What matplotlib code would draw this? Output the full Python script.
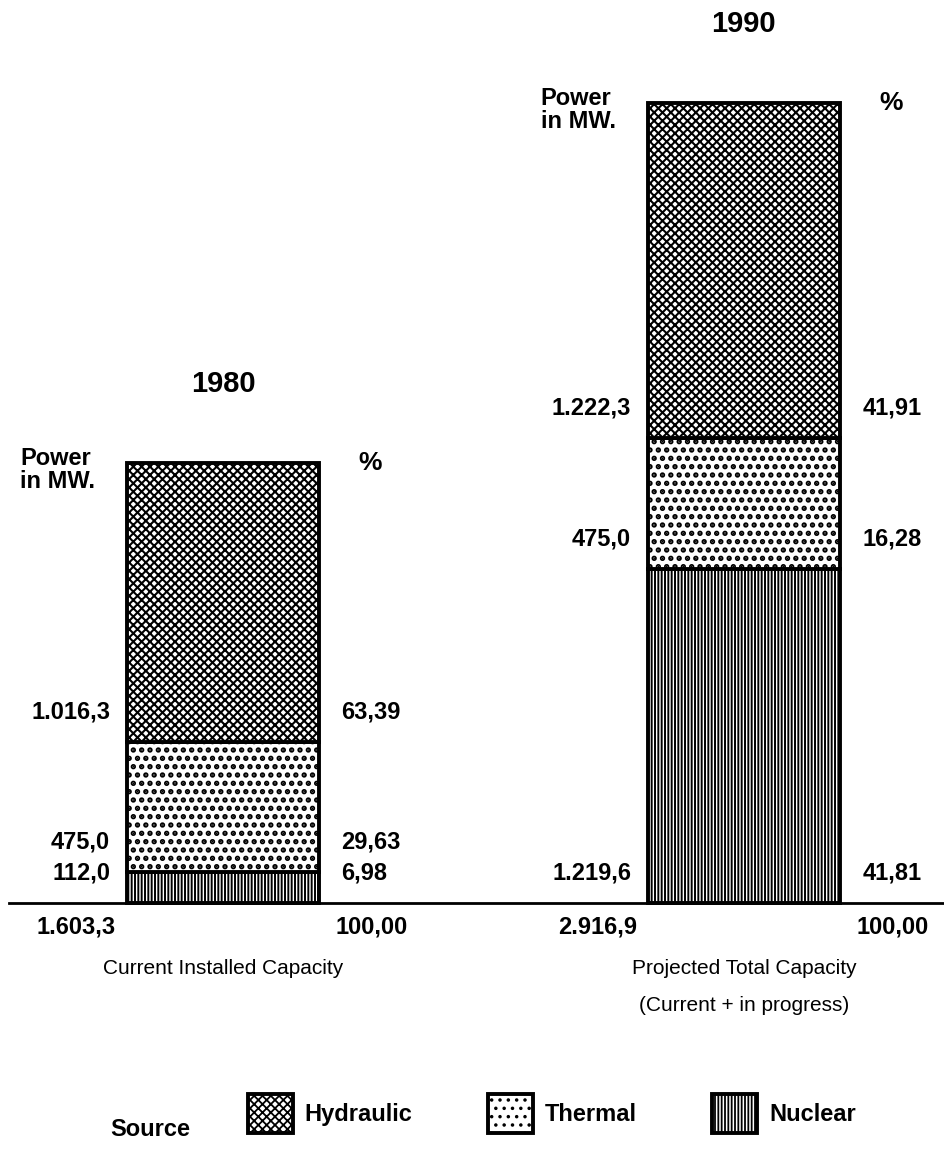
import matplotlib
matplotlib.use('Agg')
import matplotlib.pyplot as plt
import numpy as np

plt.rcParams['font.family'] = ['Liberation Sans', 'DejaVu Sans']
plt.rcParams['hatch.linewidth'] = 1.3

# data (MW and %)
years = ['1980', '1990']
sources = ['Hydraulic', 'Thermal', 'Nuclear']
nuclear_mw = [112.0, 1219.6]
thermal_mw = [475.0, 475.0]
hydraulic_mw = [1016.3, 1222.3]
total_mw = [1603.3, 2916.9]
nuclear_pct = [6.98, 41.81]
thermal_pct = [29.63, 16.28]
hydraulic_pct = [63.39, 41.91]
total_pct = [100.00, 100.00]
captions = ['Current Installed Capacity',
            'Projected Total Capacity\n(Current + in progress)']


def fmt_mw(v):
    s = f"{v:,.1f}"
    return s.replace(',', '#').replace('.', ',').replace('#', '.')


def fmt_pct(v):
    return f"{v:.2f}".replace('.', ',')


def hatch_lw(bars, lw):
    for p in bars:
        if hasattr(p, 'set_hatch_linewidth'):
            p.set_hatch_linewidth(lw)


fig = plt.figure(figsize=(9.45, 11.5), dpi=100)
ax = fig.add_axes([0, 0, 1, 1])
ax.set_xlim(-0.428, 1.386)
ax.set_ylim(-900.6, 3292.5)
ax.axis('off')

x = np.arange(len(years))
w = 0.369
bar_kw = dict(color='white', edgecolor='black', linewidth=2.8)

b_nuc = ax.bar(x, nuclear_mw, w, hatch='|||||', **bar_kw)
b_th = ax.bar(x, thermal_mw, w, bottom=nuclear_mw, hatch='..', **bar_kw)
hyd_bottom = np.add(nuclear_mw, thermal_mw)
b_hy = ax.bar(x, hydraulic_mw, w, bottom=hyd_bottom, hatch='xxxx', **bar_kw)
hatch_lw(b_nuc, 1.4)
hatch_lw(b_th, 2.6)
hatch_lw(b_hy, 1.5)

ax.axhline(0, xmin=0.01, xmax=1, color='black', lw=2)

fs = 17
fw = 'semibold'
for i in x:
    left = i - w / 2
    right = i + w / 2
    bottoms = [0, nuclear_mw[i], hyd_bottom[i]]
    mws = [nuclear_mw[i], thermal_mw[i], hydraulic_mw[i]]
    pcts = [nuclear_pct[i], thermal_pct[i], hydraulic_pct[i]]
    for b, v, p in zip(bottoms, mws, pcts):
        ax.annotate(fmt_mw(v), (left, b), xytext=(-12, 21.6), textcoords='offset points',
                    ha='right', va='center', fontsize=fs, fontweight=fw)
        ax.annotate(fmt_pct(p), (right, b), xytext=(16, 21.6), textcoords='offset points',
                    ha='left', va='center', fontsize=fs, fontweight=fw)
    # totals under the base line
    ax.annotate(fmt_mw(total_mw[i]), (left, 0), xytext=(-8, -17), textcoords='offset points',
                ha='right', va='center', fontsize=fs, fontweight=fw)
    ax.annotate(fmt_pct(total_pct[i]), (right, 0), xytext=(12, -17), textcoords='offset points',
                ha='left', va='center', fontsize=fs, fontweight=fw)
    ax.annotate('Power\nin MW.', (left, total_mw[i]), xytext=(-77, -5), textcoords='offset points',
                ha='left', va='center', fontsize=fs, fontweight=fw, linespacing=1.0)
    ax.annotate('%', (right, total_mw[i]), xytext=(37, 0), textcoords='offset points',
                ha='center', va='center', fontsize=fs + 2, fontweight='bold')
    ax.annotate(years[i], (i, total_mw[i]), xytext=(0, 57), textcoords='offset points',
                ha='center', va='center', fontsize=21, fontweight=fw)
    ax.annotate(captions[i], (i, 0), xytext=(0, -40), textcoords='offset points',
                ha='center', va='top', fontsize=15, linespacing=2.2)

leg = ax.legend([b_hy, b_th, b_nuc], sources, ncol=3, loc='lower left',
                bbox_to_anchor=(0.245, 0.0), frameon=False,
                prop={'size': 17, 'weight': fw},
                handlelength=1.9, handleheight=2.2, handletextpad=0.5,
                columnspacing=3.2, borderaxespad=0.3)
fig.text(150 / 945, 20 / 1150, 'Source', ha='center', va='center',
         fontsize=17, fontweight=fw)

fig.savefig('out.png', dpi=100)
